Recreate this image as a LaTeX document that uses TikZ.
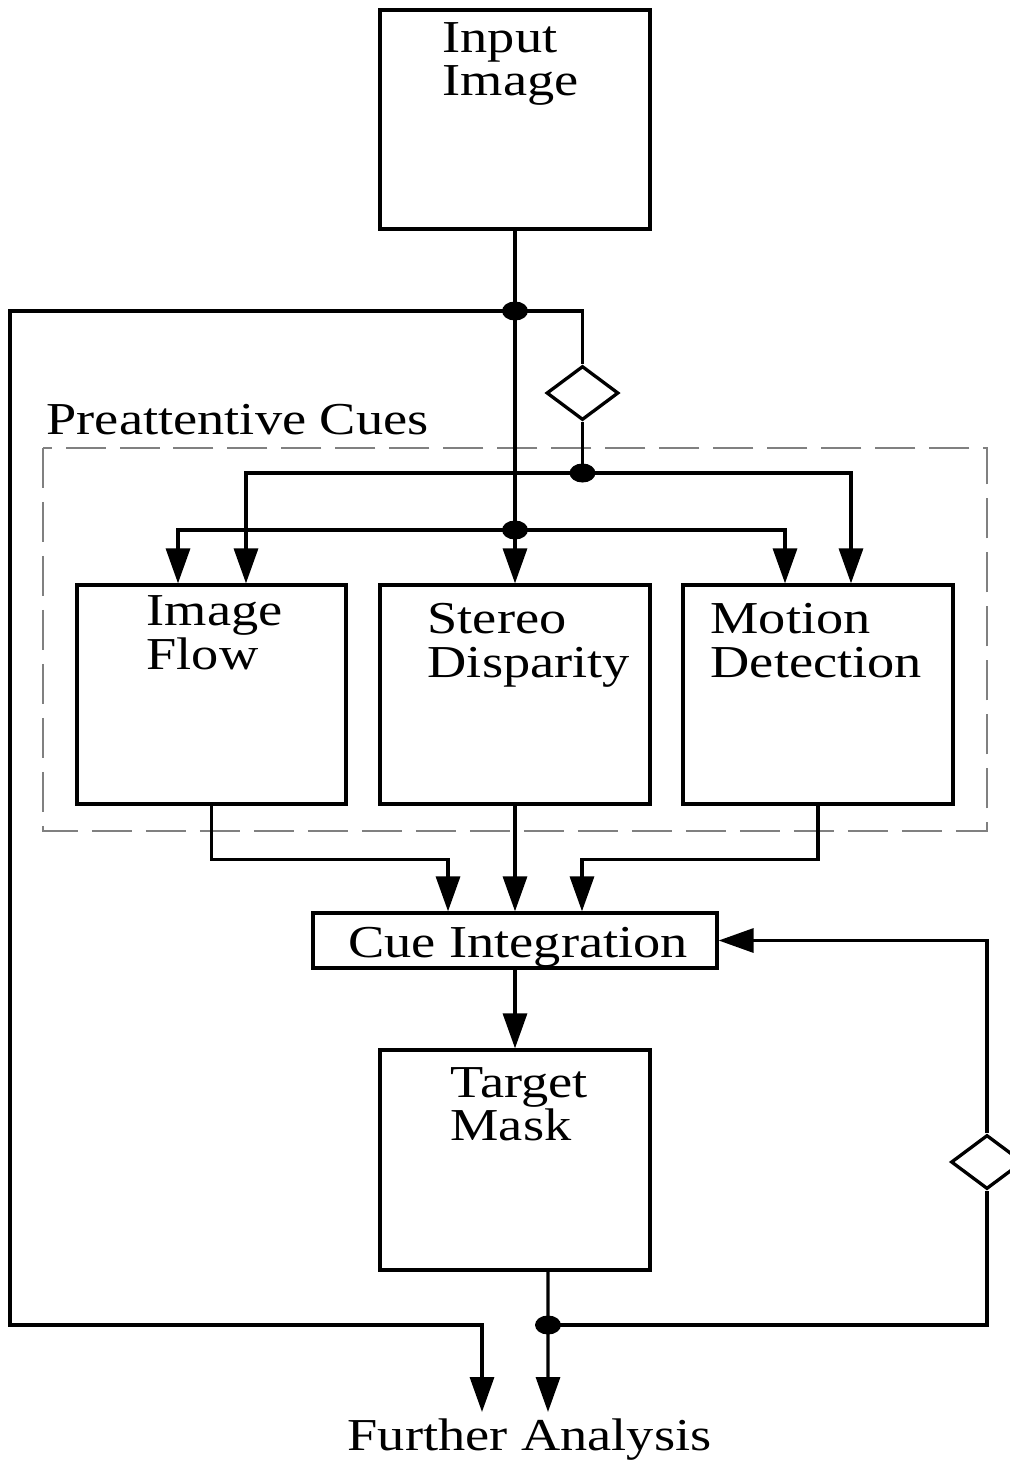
\documentclass[tikz,border=0pt]{standalone}
\usepackage{fontspec}
\setmainfont{Liberation Serif}[FakeStretch=1.19]
\usetikzlibrary{arrows.meta,shapes.geometric}
\begin{document}
\begin{tikzpicture}[x=0.02cm,y=-0.02cm,
  line width=0.066cm,
  >={Triangle[length=0.7cm,width=0.48cm]},
  box/.style={draw,rectangle,inner sep=0pt,minimum width=5.4cm,minimum height=4.38cm},
  lbl/.style={inner sep=0pt,anchor=base west,font=\fontsize{26}{26}\selectfont},
  junc/.style={ellipse,fill=black,draw=none,inner sep=0pt,minimum width=0.52cm,minimum height=0.38cm},
  gate/.style={diamond,draw,fill=white,inner sep=0pt,minimum width=1.44cm,minimum height=1.08cm},
  grp/.style={draw=black!50,line width=0.03cm,dash pattern=on 0.8cm off 0.28cm}]
\useasboundingbox (0,0) rectangle (1010,1461);
\clip (0,0) rectangle (1010,1461);

% group
\draw[grp] (43,448) rectangle (987,831);
\node[lbl] (pcT) at (45,434) {Preattentive Cues};

% boxes
\node[box] (in) at (515,119.5) {};
\node[box,minimum width=5.38cm] (fl) at (211.5,694.5) {};
\node[box] (st) at (515,694.5) {};
\node[box] (mo) at (818,694.5) {};
\node[draw,rectangle,inner sep=0pt,minimum width=8.08cm,minimum height=1.1cm] (cue) at (515,940.5) {};
\node[box,minimum height=4.4cm] (tm) at (515,1160) {};

% labels
\node[lbl] (inT1) at (441,52) {Input};
\node[lbl] (inT2) at (441,95) {Image};
\node[lbl] (flT1) at (145,625) {Image};
\node[lbl] (flT2) at (145,669) {Flow};
\node[lbl] (stT1) at (426,633) {Stereo};
\node[lbl] (stT2) at (426,677) {Disparity};
\node[lbl] (moT1) at (709,633) {Motion};
\node[lbl] (moT2) at (709,677) {Detection};
\node[lbl,anchor=base] (cueT) at (518,957) {Cue Integration};
\node[lbl] (tmT1) at (449,1097) {Target};
\node[lbl] (tmT2) at (449,1140) {Mask};
\node[lbl] (faT) at (346,1450) {Further Analysis};

% gates and junctions
\node[gate] (dT) at (582.5,393) {};
\node[gate] (dR) at (987,1162) {};
\coordinate (j1) at (515,311);
\coordinate (j2) at (515,530);
\coordinate (j3) at (582.5,473);
\coordinate (j4) at (548,1325);
\coordinate (fa1) at (482,1412);
\coordinate (fa2) at (548,1412);

% connectors
\draw[->] (in.south) -- (st.north);
\draw (j1) -| (dT.north);
\draw (dT.south) -- (j3);
\draw[->] (j3) -| ([xshift=0.69cm]fl.north);
\draw[->] (j3) -| ([xshift=0.66cm]mo.north);
\draw[->] (j2) -| ([xshift=-0.67cm]fl.north);
\draw[->] (j2) -| ([xshift=-0.66cm]mo.north);
\draw[->] (j1) -- ++(-505,0) -- ++(0,1014) -| (fa1);
\draw[->] (fl.south) -- ++(0,54) -| ([xshift=-1.34cm]cue.north);
\draw[->] (st.south) -- (cue.north);
\draw[->] (mo.south) -- ++(0,54) -| ([xshift=1.34cm]cue.north);
\draw[->] (cue.south) -- (tm.north);
\draw[->] ([xshift=0.66cm]tm.south) -- (fa2);
\draw (j4) -| (dR.south);
\draw[->] (dR.north) |- (cue.east);

\foreach \j in {j1,j2,j3,j4} \node[junc] at (\j) {};
\end{tikzpicture}
\end{document}
